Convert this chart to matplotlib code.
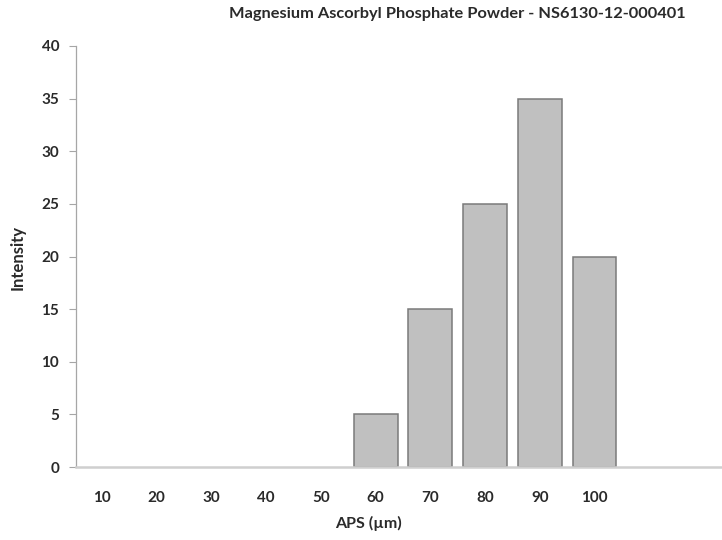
import matplotlib.pyplot as plt

sizes = ['10', '20', '30', '40', '50', '60', '70', '80', '90', '100']
intensity = [0, 0, 0, 0, 0, 5, 15, 25, 35, 20]
yticks = [0, 5, 10, 15, 20, 25, 30, 35, 40]

plt.rcParams['font.family'] = ['Lato', 'DejaVu Sans']

fig = plt.figure(figsize=(7.22, 5.4), dpi=100)
ax = fig.add_axes([0.105, 0.135, 0.895, 0.78])

pos = list(range(len(sizes)))
# no outline on empty bins, the axis line is all that shows there
edge_w = [1.1 if v > 0 else 0 for v in intensity]
ax.bar(pos, intensity, width=0.8, color='#c0c0c0', edgecolor='#7a7a7a', linewidth=edge_w)

ax.set_xlim(-0.48, 11.33)
ax.set_ylim(0, 40)
ax.set_xticks(pos)
ax.set_xticklabels(sizes)
ax.set_yticks(yticks)

txt = '#2a2a2a'
ax.tick_params(axis='x', length=0, pad=17, labelsize=11, labelcolor=txt)
ax.tick_params(axis='y', length=5, width=0.8, color='#a6a6a6', labelsize=11, labelcolor=txt, pad=7)
for lab in ax.get_xticklabels() + ax.get_yticklabels():
    lab.set_fontweight('bold')

ax.spines['top'].set_visible(False)
ax.spines['right'].set_visible(False)
ax.spines['left'].set_color('#a6a6a6')
ax.spines['bottom'].set_color('#cfcfcf')
ax.spines['left'].set_linewidth(0.9)
ax.spines['bottom'].set_linewidth(1.8)

fig.text(0.633, 0.974, 'Magnesium Ascorbyl Phosphate Powder - NS6130-12-000401',
         ha='center', va='center', fontsize=11.8, fontweight='bold', color=txt)
fig.text(0.511, 0.03, 'APS (\u00b5m)', ha='center', va='center',
         fontsize=11.5, fontweight='bold', color=txt)
fig.text(0.025, 0.524, 'Intensity', ha='center', va='center', rotation=90,
         fontsize=12, fontweight='bold', color=txt)

fig.savefig('out.png', dpi=100)
